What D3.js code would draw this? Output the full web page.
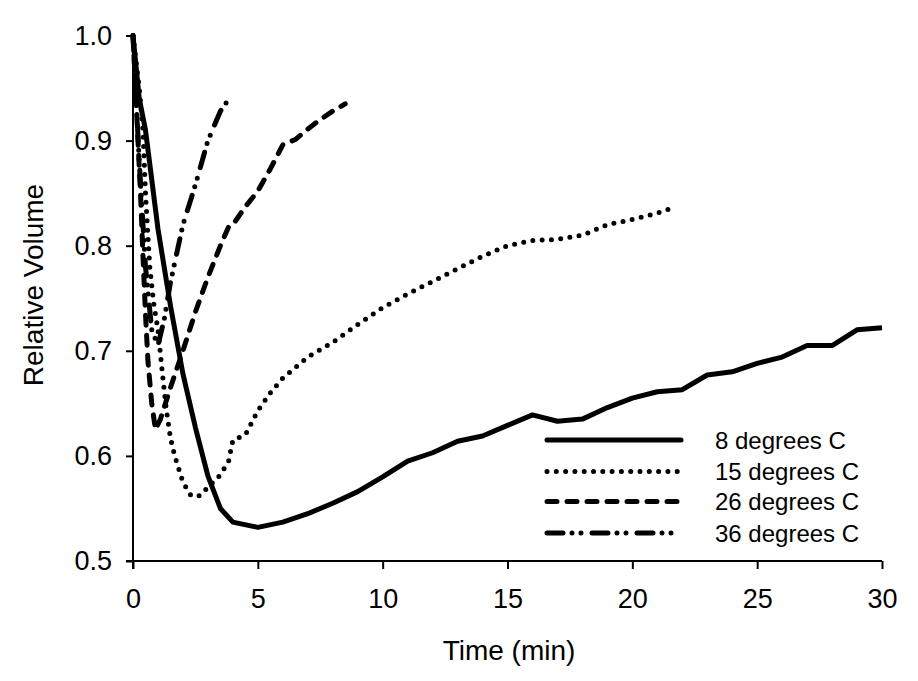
<!DOCTYPE html>
<html>
<head>
<meta charset="utf-8">
<script src="https://cdn.jsdelivr.net/npm/d3@7"></script>
<style>
  html, body { margin: 0; padding: 0; background: #fff; }
  svg { display: block; }
  text { font-family: Arial, "Liberation Sans", sans-serif; fill: #000; }
</style>
</head>
<body>
<svg id="chart" width="918" height="681"></svg>
<script>
// ---- data ----
const seriesNames = ["8 degrees C", "15 degrees C", "26 degrees C", "36 degrees C"];

const time8 = [0, 0.25, 0.5, 1, 1.5, 2, 2.5, 3, 3.5, 4, 5, 6, 7, 8, 9, 10, 11, 12, 13, 14, 15, 16, 17, 18, 19, 20, 21, 22, 23, 24, 25, 26, 27, 28, 29, 30];
const vol8  = [1.0, 0.94, 0.91, 0.816, 0.743, 0.678, 0.627, 0.581, 0.55, 0.537, 0.532, 0.537, 0.545, 0.555, 0.566, 0.58, 0.595, 0.603, 0.614, 0.619, 0.629, 0.639, 0.633, 0.635, 0.646, 0.655, 0.661, 0.663, 0.677, 0.68, 0.688, 0.694, 0.705, 0.705, 0.72, 0.722];

const time15 = [0, 0.25, 0.4, 0.5, 0.67, 0.83, 1, 1.17, 1.33, 1.5, 1.67, 2, 2.33, 2.67, 3, 3.5, 3.83, 4, 4.5, 5, 5.5, 6, 6.5, 7, 8, 9, 10, 11, 12, 13, 14, 15, 16, 17, 18, 19, 20, 21, 21.5];
const vol15  = [1.0, 0.95, 0.91, 0.85, 0.78, 0.745, 0.72, 0.68, 0.645, 0.617, 0.6, 0.575, 0.562, 0.562, 0.57, 0.582, 0.595, 0.615, 0.62, 0.643, 0.66, 0.674, 0.684, 0.694, 0.708, 0.725, 0.741, 0.754, 0.766, 0.778, 0.79, 0.8, 0.805, 0.806, 0.81, 0.82, 0.825, 0.831, 0.835];

const time26 = [0, 0.1, 0.2, 0.3, 0.4, 0.5, 0.6, 0.75, 0.9, 1.1, 1.5, 2, 2.5, 3, 3.5, 3.83, 4, 4.5, 5, 5.5, 6, 6.5, 7, 7.5, 8, 8.5];
const vol26  = [1.0, 0.95, 0.9, 0.85, 0.79, 0.735, 0.69, 0.65, 0.625, 0.635, 0.665, 0.7, 0.737, 0.77, 0.8, 0.818, 0.82, 0.837, 0.852, 0.873, 0.896, 0.901, 0.911, 0.92, 0.928, 0.935];

const time36 = [0, 0.25, 0.5, 0.75, 1, 1.25, 1.5, 2, 2.5, 3, 3.5, 3.85];
const vol36  = [1.0, 0.88, 0.78, 0.72, 0.705, 0.73, 0.765, 0.82, 0.858, 0.9, 0.928, 0.94];

const xTicks = [0, 5, 10, 15, 20, 25, 30];
const yTicks = [0.5, 0.6, 0.7, 0.8, 0.9, 1.0];

// ---- layout ----
const svg = d3.select("#chart");
const x = d3.scaleLinear().domain([0, 30]).range([133, 882]);
const y = d3.scaleLinear().domain([0.5, 1.0]).range([561, 35.5]);

const styles = [
  { dash: null, cap: "butt" },
  { dash: "0,9.3", cap: "round" },
  { dash: "10,10", cap: "round" },
  { dash: "16,9,0,9,0,11", cap: "round" }
];
const sw = 5;

const series = [
  time8.map((t, i) => [t, vol8[i]]),
  time15.map((t, i) => [t, vol15[i]]),
  time26.map((t, i) => [t, vol26[i]]),
  time36.map((t, i) => [t, vol36[i]])
];

const line = d3.line().x(d => x(d[0])).y(d => y(d[1]));

// draw series (36 first so solid is on top)
[3, 2, 1, 0].forEach(k => {
  const p = svg.append("path")
    .datum(series[k])
    .attr("d", line)
    .attr("fill", "none")
    .attr("stroke", "#000")
    .attr("stroke-width", sw)
    .attr("stroke-linejoin", "round")
    .attr("stroke-linecap", styles[k].cap);
  if (styles[k].dash) p.attr("stroke-dasharray", styles[k].dash);
});

// axes
const xAxis = svg.append("g").attr("transform", "translate(0,561)")
  .call(d3.axisBottom(x).tickValues(xTicks).tickSize(8).tickPadding(20).tickFormat(d3.format("d")));
const yAxis = svg.append("g").attr("transform", "translate(133,0)")
  .call(d3.axisLeft(y).tickValues(yTicks).tickSize(7).tickPadding(14).tickFormat(d3.format(".1f")));

[xAxis, yAxis].forEach(g => {
  g.select(".domain").attr("stroke", "#000").attr("stroke-width", 2);
  g.selectAll(".tick line").attr("stroke", "#000").attr("stroke-width", 2);
  g.selectAll(".tick text").attr("font-size", 27).attr("font-family", "Arial, 'Liberation Sans', sans-serif").attr("fill", "#000");
});
xAxis.select(".domain").attr("d", "M126,0H882");
yAxis.select(".domain").attr("d", "M0,35.5V569");

// axis titles
svg.append("text")
  .attr("x", 509).attr("y", 660)
  .attr("text-anchor", "middle")
  .attr("font-size", 28)
  .text("Time (min)");

svg.append("text")
  .attr("transform", "translate(43,285) rotate(-90)")
  .attr("text-anchor", "middle")
  .attr("font-size", 28)
  .text("Relative Volume");

// legend
const legY = [440, 471.5, 501.5, 533];
seriesNames.forEach((name, k) => {
  const ly = legY[k];
  const p = svg.append("line")
    .attr("x1", 547).attr("x2", 681)
    .attr("y1", ly).attr("y2", ly)
    .attr("stroke", "#000")
    .attr("stroke-width", sw)
    .attr("stroke-linecap", k === 0 ? "round" : styles[k].cap);
  if (styles[k].dash) p.attr("stroke-dasharray", styles[k].dash);
  svg.append("text")
    .attr("x", 715).attr("y", ly + 8.5)
    .attr("font-size", 24)
    .text(name);
});
</script>
</body>
</html>
